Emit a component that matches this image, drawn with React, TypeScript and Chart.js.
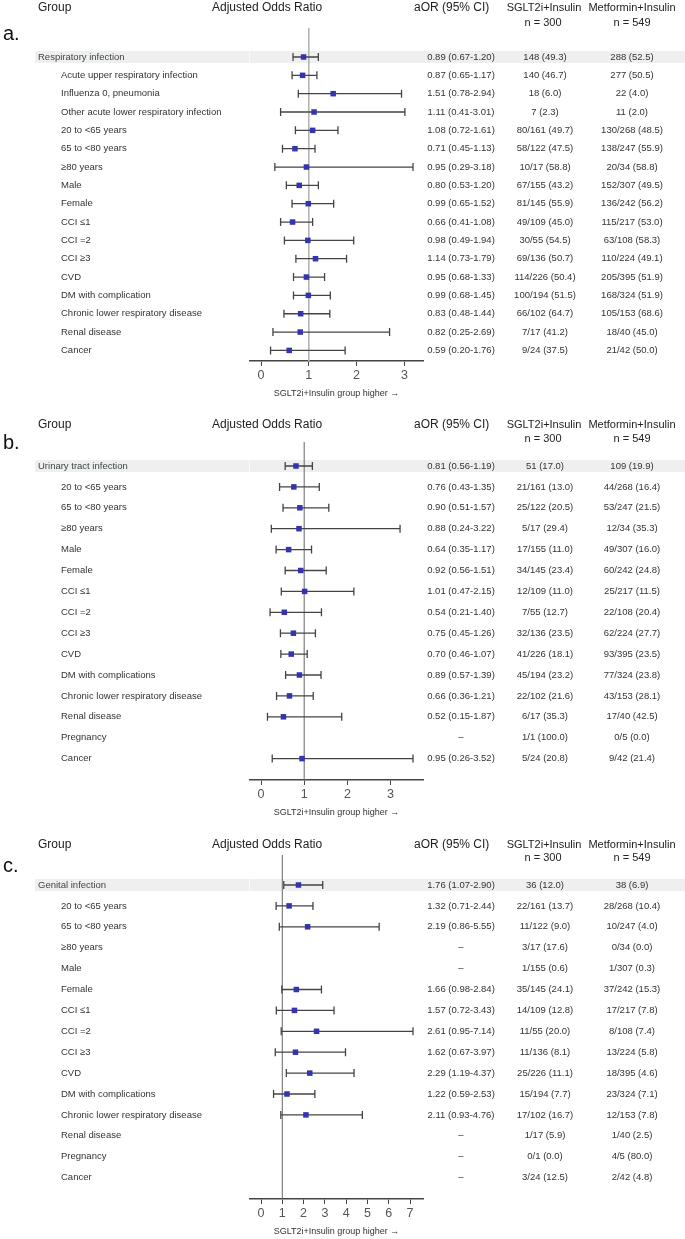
import { useEffect, useRef } from "react";
import { Chart, registerables } from "chart.js";

Chart.register(...registerables);

// ---------- Panel a: Respiratory infection ----------
const respGroups = [
  "Respiratory infection",
  "Acute upper respiratory infection",
  "Influenza 0, pneumonia",
  "Other acute lower respiratory infection",
  "20 to <65 years",
  "65 to <80 years",
  "≥80 years",
  "Male",
  "Female",
  "CCI ≤1",
  "CCI =2",
  "CCI ≥3",
  "CVD",
  "DM with complication",
  "Chronic lower respiratory disease",
  "Renal disease",
  "Cancer",
];
const respOR = [0.89, 0.87, 1.51, 1.11, 1.08, 0.71, 0.95, 0.8, 0.99, 0.66, 0.98, 1.14, 0.95, 0.99, 0.83, 0.82, 0.59];
const respLo = [0.67, 0.65, 0.78, 0.41, 0.72, 0.45, 0.29, 0.53, 0.65, 0.41, 0.49, 0.73, 0.68, 0.68, 0.48, 0.25, 0.2];
const respHi = [1.2, 1.17, 2.94, 3.01, 1.61, 1.13, 3.18, 1.2, 1.52, 1.08, 1.94, 1.79, 1.33, 1.45, 1.44, 2.69, 1.76];
const respSglt = [
  "148 (49.3)", "140 (46.7)", "18 (6.0)", "7 (2.3)", "80/161 (49.7)", "58/122 (47.5)", "10/17 (58.8)",
  "67/155 (43.2)", "81/145 (55.9)", "49/109 (45.0)", "30/55 (54.5)", "69/136 (50.7)", "114/226 (50.4)",
  "100/194 (51.5)", "66/102 (64.7)", "7/17 (41.2)", "9/24 (37.5)",
];
const respMet = [
  "288 (52.5)", "277 (50.5)", "22 (4.0)", "11 (2.0)", "130/268 (48.5)", "138/247 (55.9)", "20/34 (58.8)",
  "152/307 (49.5)", "136/242 (56.2)", "115/217 (53.0)", "63/108 (58.3)", "110/224 (49.1)", "205/395 (51.9)",
  "168/324 (51.9)", "105/153 (68.6)", "18/40 (45.0)", "21/42 (50.0)",
];
const respTicks = [0, 1, 2, 3];

// ---------- Panel b: Urinary tract infection ----------
const utiGroups = [
  "Urinary tract infection",
  "20 to <65 years",
  "65 to <80 years",
  "≥80 years",
  "Male",
  "Female",
  "CCI ≤1",
  "CCI =2",
  "CCI ≥3",
  "CVD",
  "DM with complications",
  "Chronic lower respiratory disease",
  "Renal disease",
  "Pregnancy",
  "Cancer",
];
const utiOR = [0.81, 0.76, 0.9, 0.88, 0.64, 0.92, 1.01, 0.54, 0.75, 0.7, 0.89, 0.66, 0.52, null, 0.95];
const utiLo = [0.56, 0.43, 0.51, 0.24, 0.35, 0.56, 0.47, 0.21, 0.45, 0.46, 0.57, 0.36, 0.15, null, 0.26];
const utiHi = [1.19, 1.35, 1.57, 3.22, 1.17, 1.51, 2.15, 1.4, 1.26, 1.07, 1.39, 1.21, 1.87, null, 3.52];
const utiSglt = [
  "51 (17.0)", "21/161 (13.0)", "25/122 (20.5)", "5/17 (29.4)", "17/155 (11.0)", "34/145 (23.4)",
  "12/109 (11.0)", "7/55 (12.7)", "32/136 (23.5)", "41/226 (18.1)", "45/194 (23.2)", "22/102 (21.6)",
  "6/17 (35.3)", "1/1 (100.0)", "5/24 (20.8)",
];
const utiMet = [
  "109 (19.9)", "44/268 (16.4)", "53/247 (21.5)", "12/34 (35.3)", "49/307 (16.0)", "60/242 (24.8)",
  "25/217 (11.5)", "22/108 (20.4)", "62/224 (27.7)", "93/395 (23.5)", "77/324 (23.8)", "43/153 (28.1)",
  "17/40 (42.5)", "0/5 (0.0)", "9/42 (21.4)",
];
const utiTicks = [0, 1, 2, 3];

// ---------- Panel c: Genital infection ----------
const genGroups = [
  "Genital infection",
  "20 to <65 years",
  "65 to <80 years",
  "≥80 years",
  "Male",
  "Female",
  "CCI ≤1",
  "CCI =2",
  "CCI ≥3",
  "CVD",
  "DM with complications",
  "Chronic lower respiratory disease",
  "Renal disease",
  "Pregnancy",
  "Cancer",
];
const genOR = [1.76, 1.32, 2.19, null, null, 1.66, 1.57, 2.61, 1.62, 2.29, 1.22, 2.11, null, null, null];
const genLo = [1.07, 0.71, 0.86, null, null, 0.98, 0.72, 0.95, 0.67, 1.19, 0.59, 0.93, null, null, null];
const genHi = [2.9, 2.44, 5.55, null, null, 2.84, 3.43, 7.14, 3.97, 4.37, 2.53, 4.76, null, null, null];
const genSglt = [
  "36 (12.0)", "22/161 (13.7)", "11/122 (9.0)", "3/17 (17.6)", "1/155 (0.6)", "35/145 (24.1)",
  "14/109 (12.8)", "11/55 (20.0)", "11/136 (8.1)", "25/226 (11.1)", "15/194 (7.7)", "17/102 (16.7)",
  "1/17 (5.9)", "0/1 (0.0)", "3/24 (12.5)",
];
const genMet = [
  "38 (6.9)", "28/268 (10.4)", "10/247 (4.0)", "0/34 (0.0)", "1/307 (0.3)", "37/242 (15.3)",
  "17/217 (7.8)", "8/108 (7.4)", "13/224 (5.8)", "18/395 (4.6)", "23/324 (7.1)", "12/153 (7.8)",
  "1/40 (2.5)", "4/5 (80.0)", "2/42 (4.8)",
];
const genTicks = [0, 1, 2, 3, 4, 5, 6, 7];

// ---------- shared text ----------
const headerGroup = "Group";
const headerAOR = "Adjusted Odds Ratio";
const headerCI = "aOR (95% CI)";
const headerSglt = "SGLT2i+Insulin";
const headerMet = "Metformin+Insulin";
const nSglt = "n = 300";
const nMet = "n = 549";
const axisTitle = "SGLT2i+Insulin group higher →";

type Panel = {
  letter: string;
  groups: string[];
  or: (number | null)[];
  lo: (number | null)[];
  hi: (number | null)[];
  sglt: string[];
  met: string[];
  ticks: number[];
  // layout (relative to the panel canvas)
  top: number;
  height: number;
  headerY: number;
  nY: number;
  letterY: number;
  refTop: number;
  row0: number;
  lastGap: number;
  axisY: number;
  refColor: string;
  refWidth: number;
};

const panels: Panel[] = [
  {
    letter: "a.", groups: respGroups, or: respOR, lo: respLo, hi: respHi, sglt: respSglt, met: respMet, ticks: respTicks,
    top: 0, height: 413, headerY: 8, nY: 23, letterY: 34, refTop: 28, row0: 57, lastGap: 10.6, axisY: 361,
    refColor: "#b4b4b4", refWidth: 1.6,
  },
  {
    letter: "b.", groups: utiGroups, or: utiOR, lo: utiLo, hi: utiHi, sglt: utiSglt, met: utiMet, ticks: utiTicks,
    top: 413, height: 413, headerY: 12, nY: 26, letterY: 30, refTop: 29, row0: 53, lastGap: 21.4, axisY: 367,
    refColor: "#666", refWidth: 1,
  },
  {
    letter: "c.", groups: genGroups, or: genOR, lo: genLo, hi: genHi, sglt: genSglt, met: genMet, ticks: genTicks,
    top: 826, height: 413, headerY: 19, nY: 32, letterY: 40, refTop: 29, row0: 59, lastGap: 21.4, axisY: 373,
    refColor: "#666", refWidth: 1,
  },
];

const W = 685;
const AXIS_LEFT = 250;
const AXIS_RIGHT = 423;
const AXIS_H = 38;
const FONT = '"Liberation Sans", Arial, sans-serif';

const fmt = (v: number) => v.toFixed(2);

function makePlugin(p: Panel) {
  return {
    id: "forest" + p.letter.replace(".", ""),
    beforeDraw(chart: any) {
      const { ctx } = chart;
      const ys = chart.scales.y;
      const py = ys.getPixelForValue(0);
      ctx.save();
      ctx.fillStyle = "#efefef";
      ctx.fillRect(35, py - 6, W - 35, 12);
      ctx.fillStyle = "#fafafa";
      ctx.fillRect(AXIS_LEFT - 1, py - 6, 1, 12);
      ctx.restore();
    },
    beforeDatasetsDraw(chart: any) {
      const { ctx, chartArea } = chart;
      const xs = chart.scales.x;
      const ys = chart.scales.y;
      ctx.save();
      // reference line at OR = 1
      const x1 = xs.getPixelForValue(1);
      ctx.strokeStyle = p.refColor;
      ctx.lineWidth = p.refWidth;
      ctx.beginPath();
      ctx.moveTo(x1, chartArea.top);
      ctx.lineTo(x1, chartArea.bottom);
      ctx.stroke();
      // confidence intervals with end caps
      ctx.strokeStyle = "#444";
      ctx.lineWidth = 1.3;
      p.lo.forEach((lo, i) => {
        const hi = p.hi[i];
        if (lo == null || hi == null) return;
        const y = ys.getPixelForValue(i);
        const xa = xs.getPixelForValue(lo);
        const xb = xs.getPixelForValue(hi);
        ctx.beginPath();
        ctx.moveTo(xa, y);
        ctx.lineTo(xb, y);
        ctx.moveTo(xa, y - 4);
        ctx.lineTo(xa, y + 4);
        ctx.moveTo(xb, y - 4);
        ctx.lineTo(xb, y + 4);
        ctx.stroke();
      });
      ctx.restore();
    },
    afterDraw(chart: any) {
      const { ctx } = chart;
      const ys = chart.scales.y;
      ctx.save();
      ctx.textBaseline = "middle";
      // column headers
      ctx.fillStyle = "#222";
      ctx.font = `12px ${FONT}`;
      ctx.textAlign = "left";
      ctx.fillText(headerGroup, 38, p.headerY);
      ctx.fillText(headerAOR, 212, p.headerY);
      ctx.fillText(headerCI, 414, p.headerY);
      ctx.font = `11px ${FONT}`;
      ctx.textAlign = "center";
      ctx.fillText(headerSglt, 544, p.headerY);
      ctx.fillText(headerMet, 632, p.headerY);
      ctx.fillText(nSglt, 543, p.nY);
      ctx.fillText(nMet, 632, p.nY);
      // panel letter
      ctx.font = `20px ${FONT}`;
      ctx.textAlign = "left";
      ctx.fillStyle = "#111";
      ctx.fillText(p.letter, 3, p.letterY);
      // rows
      ctx.font = `9.5px ${FONT}`;
      p.groups.forEach((g, i) => {
        const y = ys.getPixelForValue(i);
        ctx.fillStyle = i === 0 ? "#3a4848" : "#333";
        ctx.textAlign = "left";
        ctx.fillText(g, i === 0 ? 38 : 61, y);
        ctx.fillStyle = "#333";
        ctx.textAlign = "center";
        const o = p.or[i];
        const lo = p.lo[i];
        const hi = p.hi[i];
        const txt = o == null || lo == null || hi == null ? "–" : `${fmt(o)} (${fmt(lo)}-${fmt(hi)})`;
        ctx.fillText(txt, 461, y);
        ctx.fillText(p.sglt[i], 545, y);
        ctx.fillText(p.met[i], 632, y);
      });
      ctx.restore();
    },
  };
}

function buildConfig(p: Panel): any {
  const n = p.groups.length;
  const his = p.hi.filter((v): v is number => v != null);
  const maxU = Math.max(...his);
  const xMin = (-maxU * 11) / 152;
  const xMax = maxU + (maxU * 10) / 152;
  // rows evenly spaced between the first row and the last row
  const lastRow = p.axisY - p.lastGap;
  const step = (lastRow - p.row0) / (n - 1);
  const yMin = -(p.row0 - p.refTop) / step;
  const yMax = n - 1 + (p.axisY - lastRow) / step;
  const points = p.or
    .map((v, i) => (v == null ? null : { x: v, y: i }))
    .filter((v) => v != null);
  return {
    type: "scatter",
    data: {
      datasets: [
        {
          data: points,
          pointStyle: "rect",
          pointRadius: 3.9,
          pointHoverRadius: 3.9,
          backgroundColor: "#3434b0",
          borderWidth: 0,
        },
      ],
    },
    options: {
      responsive: false,
      animation: false,
      events: [],
      layout: {
        padding: {
          left: AXIS_LEFT,
          right: W - AXIS_RIGHT,
          top: p.refTop,
          bottom: p.height - p.axisY - AXIS_H,
        },
      },
      plugins: { legend: { display: false }, tooltip: { enabled: false } },
      scales: {
        x: {
          type: "linear",
          min: xMin,
          max: xMax,
          afterBuildTicks: (axis: any) => {
            axis.ticks = p.ticks.map((v) => ({ value: v }));
          },
          afterFit: (axis: any) => {
            axis.height = AXIS_H;
          },
          grid: { display: true, drawOnChartArea: false, drawTicks: true, tickLength: 5, color: "#444", lineWidth: 1 },
          border: { display: true, color: "#444", width: 1.5 },
          ticks: {
            autoSkip: false,
            maxRotation: 0,
            padding: 2,
            color: "#555",
            font: { size: 12.5, family: FONT },
            callback: (v: any) => String(v),
          },
          title: {
            display: true,
            text: axisTitle,
            color: "#333",
            font: { size: 9, family: FONT },
            padding: { top: 0, bottom: 0 },
          },
        },
        y: {
          type: "linear",
          display: false,
          reverse: true,
          min: yMin,
          max: yMax,
        },
      },
    },
    plugins: [makePlugin(p)],
  };
}

function ForestPanel({ panel }: { panel: Panel }) {
  const ref = useRef<HTMLCanvasElement>(null);
  useEffect(() => {
    if (!ref.current) return;
    const chart = new Chart(ref.current, buildConfig(panel));
    return () => chart.destroy();
  }, [panel]);
  return (
    <canvas
      ref={ref}
      width={W}
      height={panel.height}
      style={{ position: "absolute", left: 0, top: panel.top, width: W, height: panel.height, display: "block" }}
    />
  );
}

export default function App() {
  return (
    <div style={{ position: "absolute", left: 0, top: 0, width: W, height: 1239, background: "#fff" }}>
      {panels.map((p) => (
        <ForestPanel key={p.letter} panel={p} />
      ))}
    </div>
  );
}
